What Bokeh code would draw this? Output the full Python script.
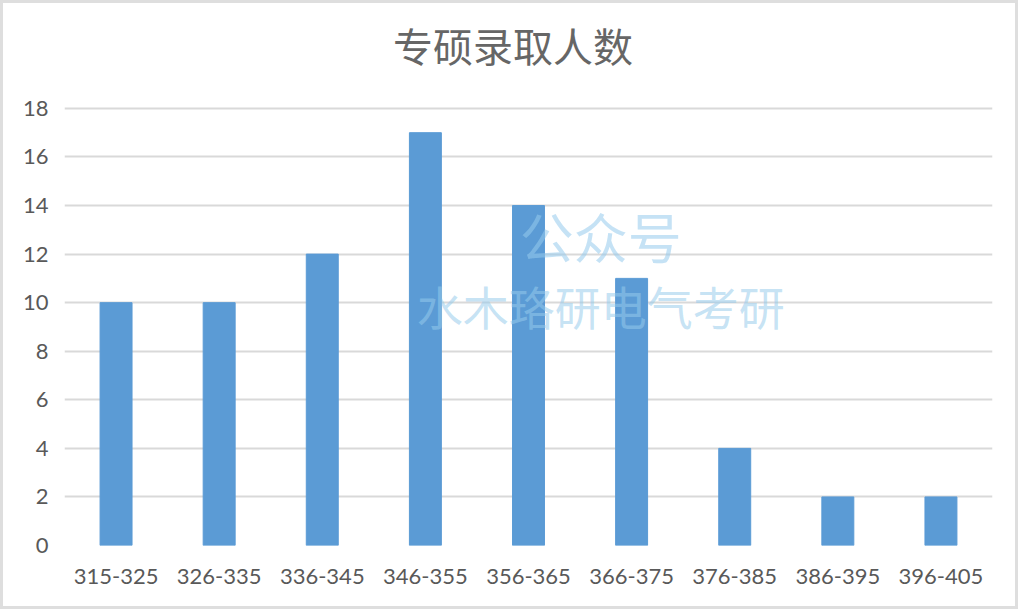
from bokeh.plotting import figure
from bokeh.models import Label, ColumnDataSource
from bokeh.embed import file_html
from bokeh.resources import INLINE

# score bands and the number of admitted students in each
categories = ["315-325", "326-335", "336-345", "346-355", "356-365",
              "366-375", "376-385", "386-395", "396-405"]
counts = [10, 10, 12, 17, 14, 11, 4, 2, 2]
y_ticks = [0, 2, 4, 6, 8, 10, 12, 14, 16, 18]
title_text = "专硕录取人数"
mark_line1 = "公众号"
mark_line2 = "水木珞研电气考研"

TEXT = "#595959"
GRID = "#d9d9d9"
BAR = "#5b9bd5"

source = ColumnDataSource(dict(cat=categories, n=counts))

# the frame reaches the top edge so the title can sit inside it,
# above the highest gridline (18)
p = figure(x_range=categories, y_range=(0, 22.32), width=1018, height=609,
           output_backend="svg", toolbar_location=None, title_location=None,
           min_border_left=61, min_border_right=29,
           min_border_top=0, min_border_bottom=67)

p.vbar(x="cat", top="n", width=0.31, source=source, color=BAR)

p.add_layout(Label(x=4.35, y=20.62, text=title_text, text_align="center",
                   text_baseline="middle", text_font="Noto Sans CJK SC",
                   text_font_size="40px", text_color="#666666"))

p.outline_line_color = None
p.xgrid.grid_line_color = None
p.ygrid.grid_line_color = GRID
p.ygrid.grid_line_width = 2

p.yaxis.ticker = y_ticks
p.yaxis.axis_line_color = None
p.yaxis.major_tick_line_color = None
p.yaxis.minor_tick_line_color = None
p.yaxis.major_label_standoff = 10
p.xaxis.axis_line_color = None
p.xaxis.major_tick_line_color = None
p.xaxis.major_label_standoff = 17
for ax in (p.xaxis, p.yaxis):
    ax.major_label_text_font = "Lato"
    ax.major_label_text_font_size = "22px"
    ax.major_label_text_color = TEXT

# faint watermark across the middle of the plot
p.add_layout(Label(x=5.2, y=12.75, text=mark_line1, text_align="center",
                   text_baseline="middle", text_font="Noto Sans CJK SC",
                   text_font_size="54px", text_color="#96cbec", text_alpha=0.55))
p.add_layout(Label(x=5.2, y=9.9, text=mark_line2, text_align="center",
                   text_baseline="middle", text_font="Noto Sans CJK SC",
                   text_font_size="46px", text_color="#96cbec", text_alpha=0.55))

p.styles = {"border": "3px solid #dedede"}

open("out.html", "w").write(file_html(p, INLINE))
